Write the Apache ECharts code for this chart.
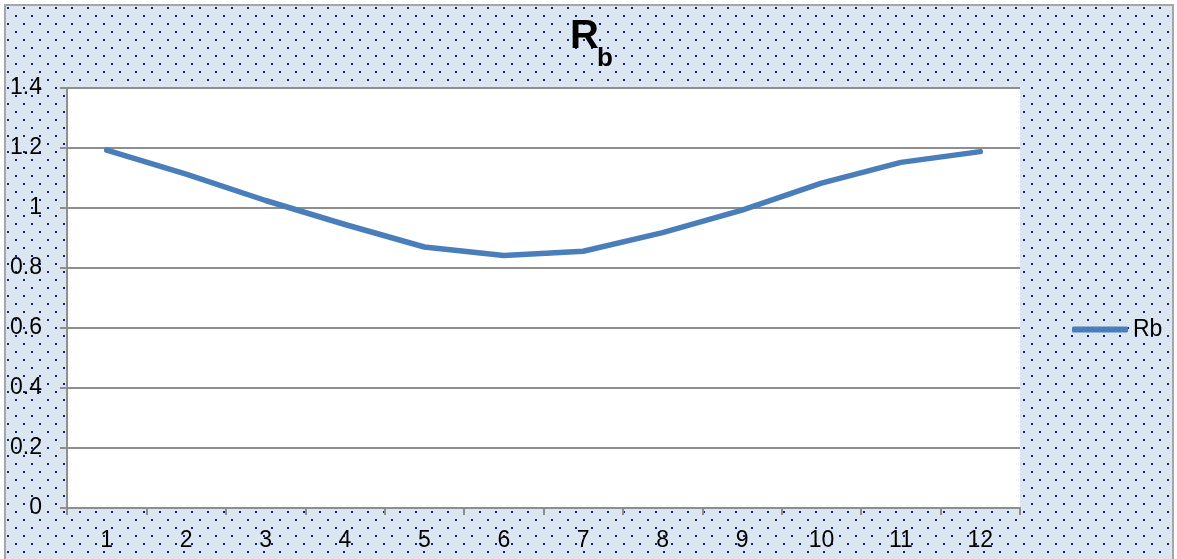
<!DOCTYPE html>
<html>
<head>
<meta charset="utf-8">
<script src="https://cdn.jsdelivr.net/npm/echarts@6/dist/echarts.min.js"></script>
<style>
  html, body { margin: 0; padding: 0; background: #fff; }
  #bg { position: absolute; left: 4px; top: 4px; width: 1166px; height: 570px;
        border: 2px solid #a6a6a6; background-color: #dce6f2; }
  #chart { position: absolute; left: 0; top: 0; width: 1177px; height: 559px; }
</style>
</head>
<body>
<div id="bg"></div>
<div id="chart"></div>
<script>
// ---- data ----
const categories = ['1', '2', '3', '4', '5', '6', '7', '8', '9', '10', '11', '12'];
const rbValues = [1.193, 1.113, 1.025, 0.945, 0.87, 0.842, 0.856, 0.918, 0.993, 1.083, 1.152, 1.188];
const seriesName = 'Rb';
const yTicks = { min: 0, max: 1.4, interval: 0.2 };

// dotted background pattern
(function () {
  const c = document.createElement('canvas');
  c.width = 16; c.height = 16;
  const g = c.getContext('2d');
  g.fillStyle = '#dce6f2';
  g.fillRect(0, 0, 16, 16);
  g.fillStyle = '#0d2a66';
  g.fillRect(1, 1, 2, 2);
  g.fillRect(9, 9, 2, 2);
  const bg = document.getElementById('bg');
  bg.style.backgroundImage = 'url(' + c.toDataURL() + ')';
  bg.style.backgroundPosition = '0px 0px';
})();

const FONT = '"Liberation Sans", Arial, sans-serif';
const grey = '#8e8e8e';
const blue = '#4a7ebb';
const chart = echarts.init(document.getElementById('chart'), null, { renderer: 'canvas' });
chart.setOption({
  backgroundColor: 'transparent',
  animation: false,
  grid: {
    left: 67, right: 157, top: 88, bottom: 51,
    show: true, backgroundColor: '#ffffff', borderWidth: 0
  },
  graphic: [
    { type: 'text', left: 570, top: 17, style: { text: 'R', font: 'bold 40px ' + FONT, fill: '#000' } },
    { type: 'text', left: 597, top: 46, style: { text: 'b', font: 'bold 26px ' + FONT, fill: '#000' } }
  ],
  legend: {
    orient: 'vertical',
    left: 1067, top: 313,
    icon: 'roundRect',
    itemWidth: 56, itemHeight: 6, itemGap: 5,
    itemStyle: { color: blue, borderWidth: 0 },
    textStyle: { fontFamily: FONT, fontSize: 23, color: '#000' },
    data: [seriesName]
  },
  xAxis: {
    type: 'category',
    data: categories,
    boundaryGap: true,
    axisLine: { show: true, lineStyle: { color: grey, width: 2 } },
    axisTick: { show: true, length: 7, alignWithLabel: false, lineStyle: { color: grey, width: 2 } },
    axisLabel: { margin: 21, fontFamily: FONT, fontSize: 23, color: '#000' },
    splitLine: { show: false }
  },
  yAxis: {
    type: 'value',
    min: yTicks.min, max: yTicks.max, interval: yTicks.interval,
    axisLine: { show: true, lineStyle: { color: grey, width: 2 } },
    axisTick: { show: true, length: 7, lineStyle: { color: grey, width: 2 } },
    axisLabel: { margin: 25, fontFamily: FONT, fontSize: 23, color: '#000' },
    splitLine: { show: true, lineStyle: { color: grey, width: 2 } }
  },
  series: [{
    name: seriesName,
    type: 'line',
    data: rbValues,
    symbol: 'none',
    smooth: false,
    lineStyle: { color: blue, width: 5.5, cap: 'round', join: 'round' },
    itemStyle: { color: blue }
  }]
});
</script>
</body>
</html>
